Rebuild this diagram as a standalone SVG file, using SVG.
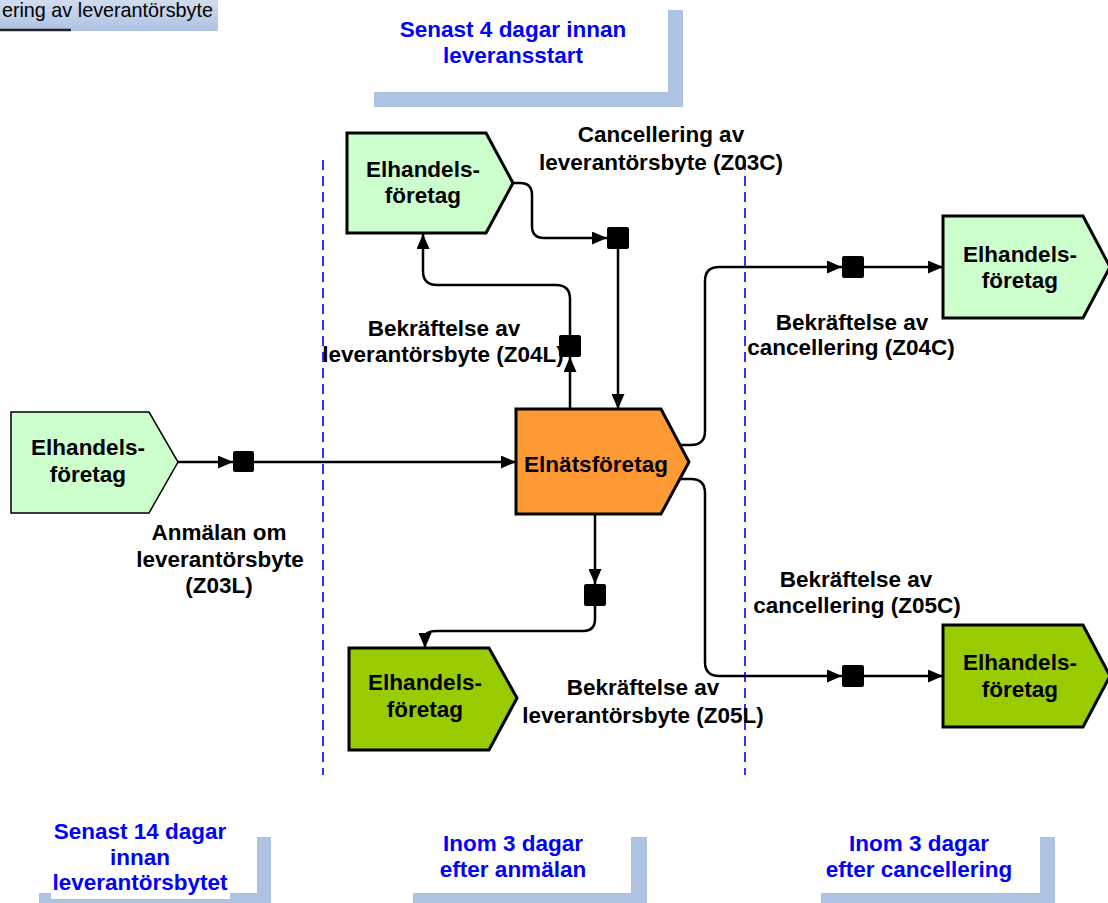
<svg xmlns="http://www.w3.org/2000/svg" width="1108" height="903" viewBox="0 0 1108 903">
<style>
.t{font-family:"Liberation Sans",Arial,sans-serif;font-weight:bold;font-size:22.5px;fill:#000;text-anchor:middle}
.b{font-family:"Liberation Sans",Arial,sans-serif;font-weight:bold;font-size:22.5px;fill:#0000ff;text-anchor:middle}
.c{fill:none;stroke:#000;stroke-width:2.5;stroke-linejoin:round}
.sq{fill:#000}
.lg{fill:#ccffcc;stroke:#000;stroke-width:3;stroke-linejoin:miter}
.dg{fill:#99cc00;stroke:#000;stroke-width:3}
.sh{fill:#aec2e2}
.dash{stroke:#0000ff;stroke-width:1.6;stroke-dasharray:10,6;fill:none}
</style>
<defs>
<marker id="arr" viewBox="0 0 15 13" refX="15" refY="6.5" markerWidth="15" markerHeight="13" orient="auto" markerUnits="userSpaceOnUse"><path d="M0,0 L15,6.5 L0,13 z" fill="#000"/></marker>
<linearGradient id="gr" x1="0" y1="0" x2="0" y2="1"><stop offset="0" stop-color="#d0dcef"/><stop offset="1" stop-color="#aec2e2"/></linearGradient>
</defs>
<rect width="1108" height="903" fill="#fff"/>

<g id="topleft">
<rect x="0" y="0" width="218" height="31" fill="url(#gr)"/>
<line x1="0" y1="30" x2="71" y2="30" stroke="#222" stroke-width="2.5"/>
<text x="213" y="17" style="font-family:'Liberation Sans',Arial,sans-serif;font-size:19.8px;text-anchor:end;fill:#000">ering av leverantörsbyte</text>
</g>

<g id="time-top">
<rect class="sh" x="374" y="10" width="309" height="97"/>
<rect fill="#fff" x="360" y="0" width="308" height="92"/>
<text class="b" x="513" y="37">Senast 4 dagar innan</text>
<text class="b" x="513" y="63">leveransstart</text>
</g>

<g id="time-1">
<rect class="sh" x="39" y="837" width="232" height="66"/>
<rect fill="#fff" x="25" y="815" width="232" height="78"/>
<rect fill="#fff" x="51" y="815" width="179" height="84"/>
<text class="b" x="140" y="839">Senast 14 dagar</text>
<text class="b" x="140" y="865">innan</text>
<text class="b" x="140" y="890">leverantörsbytet</text>
</g>

<g id="time-2">
<rect class="sh" x="413" y="837" width="234" height="66"/>
<rect fill="#fff" x="400" y="815" width="231" height="78"/>
<text class="b" x="513" y="851">Inom 3 dagar</text>
<text class="b" x="513" y="877">efter anmälan</text>
</g>

<g id="time-3">
<rect class="sh" x="821" y="837" width="234" height="66"/>
<rect fill="#fff" x="808" y="815" width="232" height="78"/>
<text class="b" x="919" y="851">Inom 3 dagar</text>
<text class="b" x="919" y="877">efter cancellering</text>
</g>

<g id="dividers">
<line class="dash" x1="323" y1="160" x2="323" y2="775"/>
<line class="dash" x1="745" y1="160" x2="745" y2="775"/>
</g>

<g id="connectors">
<path class="c" d="M178,462 H233" marker-end="url(#arr)"/>
<path class="c" d="M254,462 H516" marker-end="url(#arr)"/>
<path class="c" d="M513,183 H520 Q532,183 532,195 V226 Q532,238 544,238 H607" marker-end="url(#arr)"/>
<path class="c" d="M618,249 V409" marker-end="url(#arr)"/>
<path class="c" d="M570,409 V357" marker-end="url(#arr)"/>
<path class="c" d="M570,335 V299 Q570,285 556,285 H437 Q423,285 423,271 V234" marker-end="url(#arr)"/>
<path class="c" d="M680,445 H691 Q705,445 705,431 V281 Q705,267 719,267 H842" marker-end="url(#arr)"/>
<path class="c" d="M864,267 H943" marker-end="url(#arr)"/>
<path class="c" d="M680,479 H691 Q705,479 705,493 V662 Q705,676 719,676 H842" marker-end="url(#arr)"/>
<path class="c" d="M864,676 H943" marker-end="url(#arr)"/>
<path class="c" d="M595,514 V584" marker-end="url(#arr)"/>
<path class="c" d="M595,606 V619 Q595,631 583,631 H437 Q425,631 425,638 V648" marker-end="url(#arr)"/>
<rect class="sq" x="233" y="451" width="21" height="21" rx="2"/>
<rect class="sq" x="607" y="227" width="22" height="22" rx="2"/>
<rect class="sq" x="559" y="335" width="22" height="22" rx="2"/>
<rect class="sq" x="842" y="256" width="22" height="22" rx="2"/>
<rect class="sq" x="842" y="665" width="22" height="22" rx="2"/>
<rect class="sq" x="584" y="584" width="22" height="22" rx="2"/>
</g>

<g id="labels">
<text class="t" x="661" y="142">Cancellering av</text>
<text class="t" x="661" y="170">leverantörsbyte (Z03C)</text>
<text class="t" x="444" y="336">Bekräftelse av</text>
<text class="t" x="443" y="362">leverantörsbyte (Z04L)</text>
<text class="t" x="852" y="330">Bekräftelse av</text>
<text class="t" x="851" y="355">cancellering (Z04C)</text>
<text class="t" x="219" y="540">Anmälan om</text>
<text class="t" x="220" y="567">leverantörsbyte</text>
<text class="t" x="219" y="593">(Z03L)</text>
<text class="t" x="856" y="587">Bekräftelse av</text>
<text class="t" x="857" y="613">cancellering (Z05C)</text>
<text class="t" x="643" y="695">Bekräftelse av</text>
<text class="t" x="643" y="723">leverantörsbyte (Z05L)</text>
</g>

<g id="node-top">
<polygon class="lg" points="347,133 486,133 513,183 486,233 347,233"/>
<text class="t" x="423" y="177">Elhandels-</text>
<text class="t" x="423" y="203">företag</text>
</g>
<g id="node-left">
<polygon class="lg" style="stroke-width:1.5" points="11,412 149,412 178,462 149,513 11,513"/>
<text class="t" x="88" y="455">Elhandels-</text>
<text class="t" x="88" y="482">företag</text>
</g>
<g id="node-elnat">
<polygon fill="#ff9933" stroke="#000" stroke-width="3" points="516,409 661,409 689,462 661,514 516,514"/>
<text class="t" x="596" y="472">Elnätsföretag</text>
</g>
<g id="node-topright">
<polygon class="lg" points="943,216 1083,216 1110,267 1083,318 943,318"/>
<text class="t" x="1020" y="262">Elhandels-</text>
<text class="t" x="1020" y="288">företag</text>
</g>
<g id="node-bottomleft">
<polygon class="dg" points="349,648 489,648 517,698 489,750 349,750"/>
<text class="t" x="425" y="690">Elhandels-</text>
<text class="t" x="425" y="717">företag</text>
</g>
<g id="node-bottomright">
<polygon class="dg" points="943,625 1083,625 1110,676 1083,727 943,727"/>
<text class="t" x="1020" y="670">Elhandels-</text>
<text class="t" x="1020" y="697">företag</text>
</g>
</svg>
